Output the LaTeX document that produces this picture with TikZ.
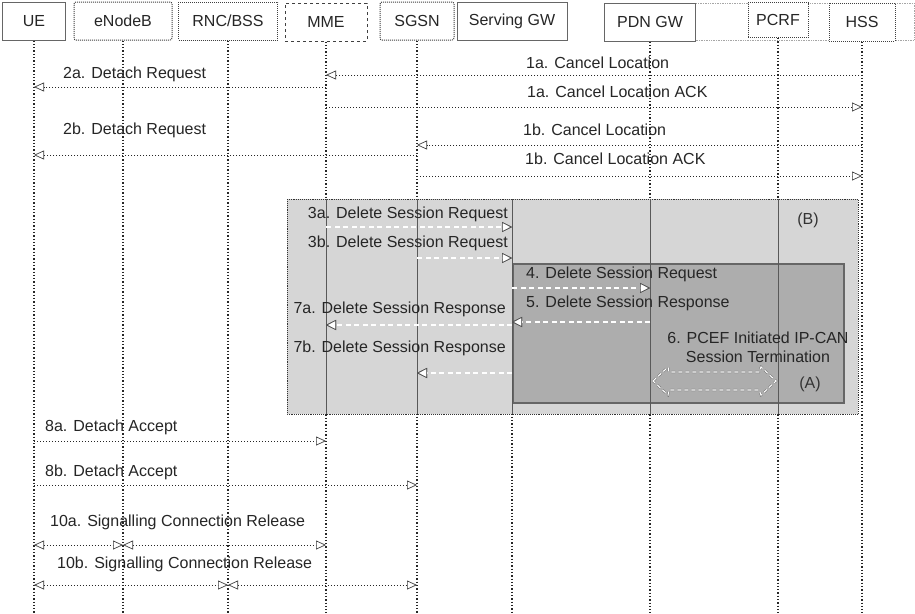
\documentclass[tikz,border=0pt]{standalone}
\usepackage{fontspec}
\setmainfont{Liberation Sans}
\usetikzlibrary{arrows.meta}
\begin{document}
\begin{tikzpicture}[x=1pt,y=-1pt,
  hdrsolid/.style={draw=black!60, line width=1pt, minimum height=38pt, inner sep=0pt, fill=white, text=black!85, font=\fontsize{16}{19}\selectfont},
  hdrdot/.style={hdrsolid, densely dotted, draw=black!75},
  life/.style={dotted, line width=1.3pt, black!85},
  lifein/.style={line width=0.9pt, black!65},
  wtip/.tip={Triangle[length=10pt,width=9pt,fill=white,color=black!75,line width=0.7pt]},
  msg/.style={dotted, line width=1pt, black!85, -wtip},
  dmsg/.style={dotted, line width=1pt, black!85, wtip-wtip},
  boxmsg/.style={draw=white, line width=1.3pt, dash pattern=on 5pt off 3.5pt,
     preaction={draw=black!60, line width=2.6pt, dash pattern=on 5pt off 3.5pt},
     -{Triangle[length=10pt,width=10pt,fill=white,color=black!70,line width=0.7pt]}},
  lbl/.style={inner sep=0pt, text=black!85, font=\fontsize{16}{19}\selectfont},
]
\useasboundingbox (0,0) rectangle (915,613);
\fill[white] (0,0) rectangle (915,613);
\coordinate (bot) at (0,613);
\coordinate (btop) at (0,199);
\coordinate (bbot) at (0,414);

% faint background header frame
\draw[black!35, densely dotted, line width=0.7pt] (605,3) rectangle (914,40);

% header boxes
\node[hdrsolid, minimum width=63pt] (ue) at (34,21) {UE};
\node[hdrdot, minimum width=98pt, rounded corners=2pt] (enb) at (123,21) {eNodeB};
\node[hdrdot, minimum width=99pt] (rnc) at (228,21) {RNC/BSS};
\node[hdrdot, minimum width=82pt, dashed] (mme) at (326,22) {MME};
\node[hdrdot, minimum width=74pt, rounded corners=2pt] (sgsn) at (417,21) {SGSN};
\node[hdrsolid, minimum width=110pt] (sgw) at (512,21) {Serving GW};
\node[hdrsolid, minimum width=91pt] (pdn) at (650,22) {PDN GW};
\node[hdrdot, minimum width=60pt, minimum height=35pt] (pcrf) at (778,20) {PCRF};
\node[hdrdot, minimum width=66pt] (hss) at (862,22) {HSS};

% lifelines
\foreach \n in {ue,enb,rnc,mme,sgsn,pdn,pcrf,hss}
  \draw[life] (\n.south) -- (\n.south |- bot);
\draw[life] (sgw |- btop) -- (sgw |- bot);

% group boxes
\draw[fill=black!16, draw=black!80, densely dotted, line width=0.9pt] (287,199) rectangle (858,414);
\draw[fill=black!32, draw=black!60, line width=1.6pt] (513,264) rectangle (844,403);
\foreach \n in {mme,sgsn,sgw,pdn,pcrf}
  \draw[lifein] (\n |- btop) -- (\n |- bbot);

\node[lbl, text=black!80] (labB) at (808,220) {(B)};
\node[lbl, text=black!80] (labA) at (810,384) {(A)};

% top messages
\node[lbl, anchor=mid west] (t1a) at (526,66) {1a. Cancel Location};
\draw[msg] (hss |- 0,75) -- (mme |- 0,75);
\node[lbl, anchor=mid west] (t2a) at (63,76) {2a. Detach Request};
\draw[msg] (mme |- 0,87) -- (ue |- 0,87);
\node[lbl, anchor=mid west] (t1aack) at (527,95) {1a. Cancel Location ACK};
\draw[msg] (mme |- 0,107) -- (hss |- 0,107);
\node[lbl, anchor=mid west] (t2b) at (63,132) {2b. Detach Request};
\node[lbl, anchor=mid west] (t1b) at (523,133) {1b. Cancel Location};
\draw[msg] (hss |- 0,145) -- (sgsn |- 0,145);
\draw[msg] (sgsn |- 0,155) -- (ue |- 0,155);
\node[lbl, anchor=mid west] (t1back) at (525,162) {1b. Cancel Location ACK};
\draw[msg] (sgsn |- 0,176) -- (hss |- 0,176);

% session deletion
\node[lbl, anchor=mid east] (t3a) at (508,216) {3a. Delete Session Request};
\draw[boxmsg] (mme |- 0,227) -- (sgw |- 0,227);
\node[lbl, anchor=mid east] (t3b) at (508,245) {3b. Delete Session Request};
\draw[boxmsg] (sgsn |- 0,258) -- (sgw |- 0,258);
\node[lbl, anchor=mid west] (t4) at (526,276) {4. Delete Session Request};
\draw[boxmsg] (sgw |- 0,288) -- (pdn |- 0,288);
\node[lbl, anchor=mid west] (t5) at (526,305) {5. Delete Session Response};
\draw[boxmsg] (pdn |- 0,322) -- (sgw |- 0,322);
\node[lbl, anchor=mid east] (t7a) at (506,311) {7a. Delete Session Response};
\draw[boxmsg] (sgw |- 0,325) -- (mme |- 0,325);
\node[lbl, anchor=mid east] (t7b) at (506,350) {7b. Delete Session Response};
\draw[boxmsg] (sgw |- 0,373) -- (sgsn |- 0,373);

\node[lbl, align=center] (t6) at (758,347) {6. PCEF Initiated IP-CAN\\Session Termination};
\draw[draw=white, line width=1.1pt, dash pattern=on 4pt off 3pt,
      preaction={draw=black!55, line width=2.2pt, dash pattern=on 4pt off 3pt}]
  (653,381) -- (668,367) -- (669,372) -- (759,372) -- (761,367) -- (776,381)
  -- (761,395) -- (759,390) -- (669,390) -- (668,395) -- cycle;

% accept / release
\node[lbl, anchor=mid west] (t8a) at (45,429) {8a. Detach Accept};
\draw[msg] (ue |- 0,441) -- (mme |- 0,441);
\node[lbl, anchor=mid west] (t8b) at (45,474) {8b. Detach Accept};
\draw[msg] (ue |- 0,485) -- (sgsn |- 0,485);
\node[lbl, anchor=mid west] (t10a) at (50,524) {10a. Signalling Connection Release};
\draw[dmsg] (ue |- 0,545) -- (enb |- 0,545);
\draw[dmsg] (enb |- 0,545) -- (mme |- 0,545);
\node[lbl, anchor=mid west] (t10b) at (57,566) {10b. Signalling Connection Release};
\draw[dmsg] (ue |- 0,585) -- (rnc |- 0,585);
\draw[dmsg] (rnc |- 0,585) -- (sgsn |- 0,585);
\end{tikzpicture}
\end{document}
